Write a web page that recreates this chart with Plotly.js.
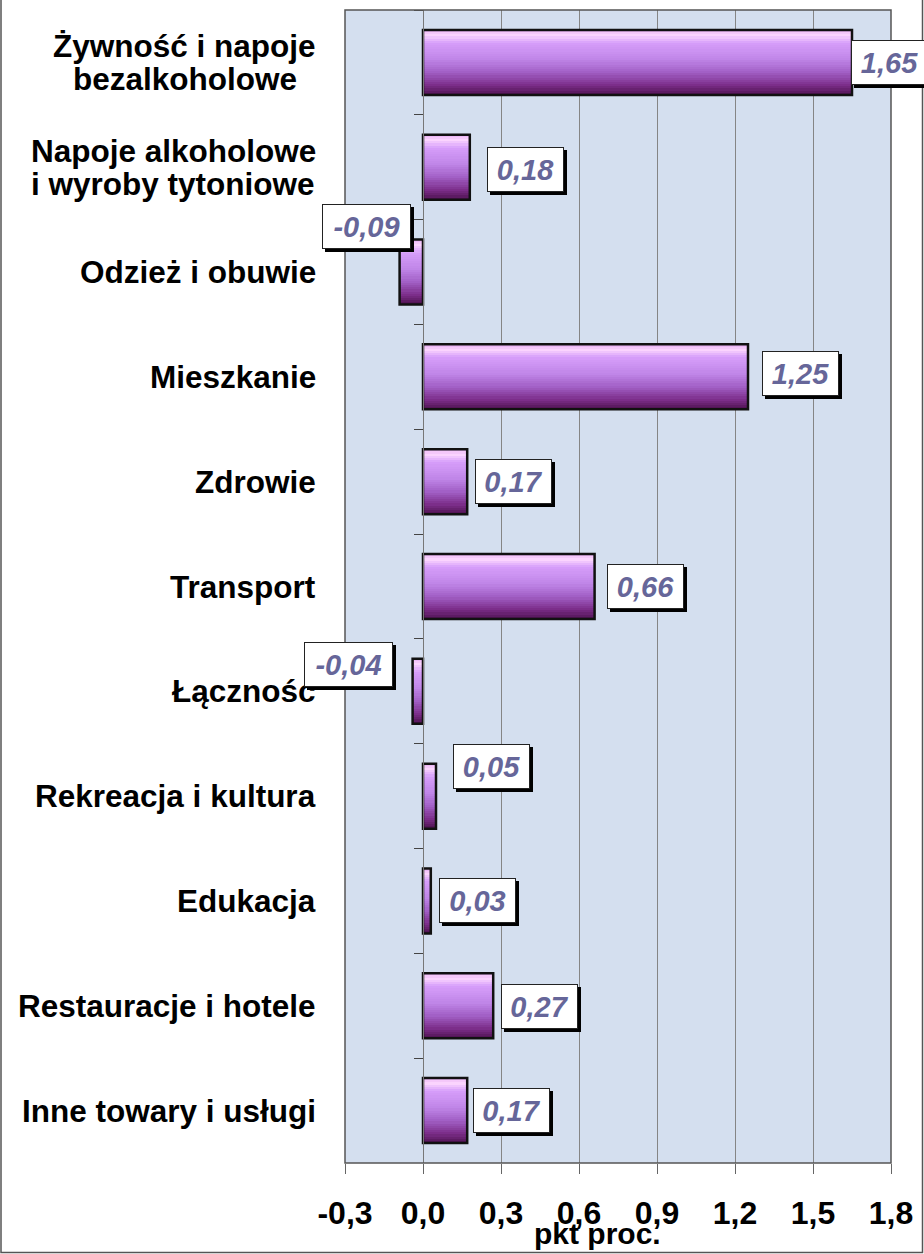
<!DOCTYPE html>
<html>
<head>
<meta charset="utf-8">
<script src="https://cdn.plot.ly/plotly-3.0.1.min.js"></script>
<style>
html,body{margin:0;padding:0;background:#fff;}
#chart{width:924px;height:1254px;}
</style>
</head>
<body>
<div id="chart"></div>
<script>
// ---- data ----
const categories = [
  'Żywność i napoje<br>bezalkoholowe',
  'Napoje alkoholowe<br>i wyroby tytoniowe',
  'Odzież i obuwie',
  'Mieszkanie',
  'Zdrowie',
  'Transport',
  'Łączność',
  'Rekreacja i kultura',
  'Edukacja',
  'Restauracje i hotele',
  'Inne towary i usługi'
];
const values = [1.65, 0.18, -0.09, 1.25, 0.17, 0.66, -0.04, 0.05, 0.03, 0.27, 0.17];
const xTickValues = [-0.3, 0.0, 0.3, 0.6, 0.9, 1.2, 1.5, 1.8];
const xTickLabels = ['-0,3', '0,0', '0,3', '0,6', '0,9', '1,2', '1,5', '1,8'];
const xAxisTitle = 'pkt proc.';

// ---- styling ----
const FONT = 'Liberation Sans, Arial, sans-serif';
const W = 1254, Wd = 924;
const M = {l: 345, r: 33, t: 10, b: 91};
const plotW = Wd - M.l - M.r, plotH = W - M.t - M.b;
const BAR_W = 0.62;
const stops = [
  [0.00, [232, 176, 244]],
  [0.08, [252, 214, 254]],
  [0.20, [214, 158, 250]],
  [0.45, [192, 134, 232]],
  [0.65, [162, 96, 198]],
  [0.85, [124, 46, 138]],
  [1.00, [78, 18, 80]]
];
function colorAt(t) {
  for (let i = 1; i < stops.length; i++) {
    if (t <= stops[i][0]) {
      const a = stops[i-1], b = stops[i];
      const f = (t - a[0]) / (b[0] - a[0]);
      const c = a[1].map((v, k) => Math.round(v + (b[1][k] - v) * f));
      return 'rgb(' + c.join(',') + ')';
    }
  }
  return 'rgb(' + stops[stops.length-1][1].join(',') + ')';
}
// label box nudges (px): dx from bar end, dy up from category centre
const labelNudge = [
  {dx: -1, dy: 0}, {dx: 17, dy: -2}, {dx: 11, dy: 46}, {dx: 14, dy: 3},
  {dx: 8, dy: 0}, {dx: 12, dy: 0}, {dx: -20, dy: 27}, {dx: 17, dy: 30},
  {dx: 8, dy: 0}, {dx: 8, dy: -1}, {dx: 6, dy: 0}
];

const traces = [];
const N = 30;
for (let i = 0; i < N; i++) {
  traces.push({
    type: 'bar', orientation: 'h',
    x: values, y: categories,
    width: BAR_W / N + 0.002,
    offset: -BAR_W / 2 + i * BAR_W / N,
    marker: {color: colorAt((i + 0.5) / N), line: {width: 0}},
    hoverinfo: 'skip', showlegend: false
  });
}
// outline
traces.push({
  type: 'bar', orientation: 'h',
  x: values, y: categories,
  width: BAR_W, offset: -BAR_W / 2,
  marker: {color: 'rgba(0,0,0,0)', line: {color: '#111', width: 2.5}},
  hoverinfo: 'skip', showlegend: false
});

function textWidth(s, size) {
  const c = document.createElement('canvas').getContext('2d');
  c.font = 'bold ' + size + 'px ' + FONT;
  return c.measureText(s).width;
}

const CAT_SIZE = 31.5;
const annotations = [];
// category labels (lines centred on a common centre, block right edge near 316px)
categories.forEach((c) => {
  const lines = c.split('<br>');
  const n = lines.length;
  const maxW = Math.max(...lines.map(l => textWidth(l, CAT_SIZE)));
  lines.forEach((ln, j) => {
    annotations.push({
      xref: 'paper', yref: 'y', x: 0, y: c,
      xanchor: 'center', yanchor: 'middle',
      xshift: -29 - maxW / 2, yshift: (n - 1) * 16.5 - j * 33,
      text: ln, showarrow: false,
      font: {family: FONT, size: CAT_SIZE, color: '#000', weight: 'bold'}
    });
  });
});
// value labels
values.forEach((v, i) => {
  const txt = v.toFixed(2).replace('.', ',');
  const w = txt.length > 4 ? 87 : 75;
  const nd = labelNudge[i];
  const base = {
    xref: 'x', yref: 'y', x: v, y: categories[i],
    xanchor: v >= 0 ? 'left' : 'right', yanchor: 'middle',
    showarrow: false, width: w, height: 43, borderpad: 0, borderwidth: 1,
    text: txt,
    font: {family: FONT, size: 29, weight: 'bold', style: 'italic'}
  };
  annotations.push(Object.assign({}, base, {
    xshift: nd.dx + 3, yshift: nd.dy - 3,
    bgcolor: '#000', bordercolor: '#000',
    font: Object.assign({}, base.font, {color: '#000'})
  }));
  annotations.push(Object.assign({}, base, {
    xshift: nd.dx, yshift: nd.dy,
    bgcolor: '#fff', bordercolor: '#222',
    font: Object.assign({}, base.font, {color: '#666699'})
  }));
});
// x axis title
annotations.push({
  xref: 'paper', yref: 'paper',
  x: (597 - M.l) / plotW, y: -(1233 - (W - M.b)) / plotH,
  xanchor: 'center', yanchor: 'middle', showarrow: false,
  text: xAxisTitle,
  font: {family: FONT, size: 30, color: '#000', weight: 'bold'}
});

const shapes = [
  {type: 'rect', xref: 'paper', yref: 'paper', x0: 0, x1: 1, y0: 0, y1: 1,
   line: {color: '#555', width: 1.5}, layer: 'above'},
  {type: 'path', xref: 'paper', yref: 'paper',
   path: 'M ' + ((1 - M.l) / plotW) + ' ' + ((W - M.b) / plotH) +
         ' L ' + ((1 - M.l) / plotW) + ' ' + (-(W - 1.5 - (W - M.b)) / plotH) +
         ' L ' + ((922.5 - M.l) / plotW) + ' ' + (-(W - 1.5 - (W - M.b)) / plotH) +
         ' L ' + ((922.5 - M.l) / plotW) + ' ' + ((W - M.b) / plotH),
   line: {color: '#555', width: 1.5}}
];

const layout = {
  width: Wd, height: W,
  margin: M,
  paper_bgcolor: '#fff', plot_bgcolor: '#d4dfef',
  barmode: 'overlay', bargap: 0,
  separators: ',.',
  showlegend: false,
  xaxis: {
    range: [-0.3, 1.8], tickvals: xTickValues, ticktext: xTickLabels,
    ticks: 'outside', ticklen: 10, tickcolor: '#666', tickwidth: 1,
    showgrid: true, gridcolor: '#858585', gridwidth: 1,
    zeroline: true, zerolinecolor: '#777', zerolinewidth: 1,
    showline: false, ticklabelstandoff: 12,
    tickfont: {family: FONT, size: 32, color: '#000', weight: 'bold'},
    fixedrange: true
  },
  yaxis: {
    type: 'category', categoryorder: 'array', categoryarray: categories,
    range: [categories.length - 0.5, -0.5],
    tickson: 'boundaries', ticks: 'outside', ticklen: 9, tickcolor: '#444',
    showticklabels: false, showgrid: false, zeroline: false,
    showline: true, linecolor: '#777', linewidth: 1,
    anchor: 'free', position: 0.3 / 2.1,
    fixedrange: true
  },
  annotations: annotations,
  shapes: shapes
};

Plotly.newPlot('chart', traces, layout, {displayModeBar: false, staticPlot: true});
</script>
</body>
</html>
